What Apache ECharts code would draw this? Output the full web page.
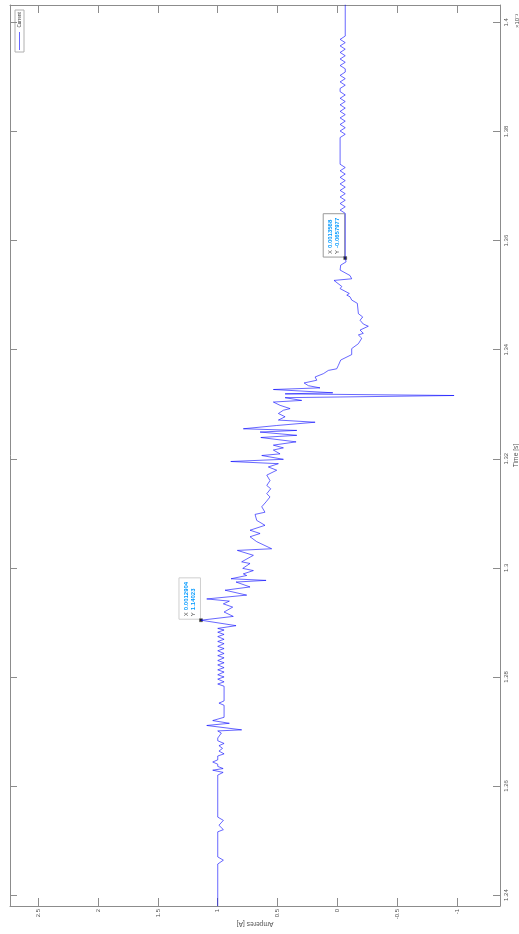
<!DOCTYPE html>
<html><head><meta charset="utf-8">
<script src="https://cdn.jsdelivr.net/npm/echarts@6/dist/echarts.min.js"></script>
<style>html,body{margin:0;padding:0;background:#fff}#c{width:519px;height:934px}</style>
</head><body><div id="c"></div>
<script>
// ---- data: [time (x1e-3 s), current (A)] ----
const segStart = [[1.2379,1.0],[1.2457,1.0],[1.2464,0.953],[1.2470,1.0],[1.2516,1.0],[1.2520,0.953],[1.2528,0.99],[1.2537,0.953],[1.2543,1.0]];
const segCluster = [[1.2620,1.0],[1.2625,0.955],[1.2629,1.042],[1.2632,0.955],[1.2636,1.0],[1.2640,1.0],[1.2644,1.042],[1.2648,1.0],[1.2655,1.0],[1.2659,0.947],[1.2664,0.99],[1.2669,0.96],[1.2674,0.99],[1.2678,0.947],[1.2683,1.0],[1.2688,1.0],[1.2697,0.97],[1.2701,1.0],[1.2703,0.80],[1.2711,1.092],[1.2715,0.903],[1.2720,1.042],[1.2726,0.947],[1.2748,0.947],[1.2752,0.99],[1.2756,0.947],[1.2783,0.947]];
const segRipple = [[1.2787,1.0],[1.2791,0.947],[1.2796,1.0],[1.2800,0.947],[1.2804,1.0],[1.2809,0.947],[1.2813,1.0],[1.2817,0.947],[1.2822,1.0],[1.2826,0.947],[1.2830,1.0],[1.2835,0.947],[1.2839,1.0],[1.2843,0.947],[1.2848,1.0],[1.2852,0.947],[1.2856,1.0],[1.2861,0.947],[1.2865,1.0],[1.2869,0.947],[1.2874,1.0],[1.2878,0.947],[1.2882,1.0],[1.2886,0.947],[1.2889,1.0]];
const segTransient = [[1.2894,0.847],[1.2904,1.14023],[1.2911,0.87],[1.2919,0.947],[1.2928,0.875],[1.2934,0.953],[1.2939,0.903],[1.2943,1.092],[1.2950,0.758],[1.2959,0.939],[1.2965,0.730],[1.2974,0.847],[1.2977,0.596],[1.2980,0.889],[1.2986,0.758],[1.2989,0.786],[1.2995,0.702],[1.2999,0.791],[1.3008,0.730],[1.3011,0.80],[1.3023,0.702],[1.3032,0.836],[1.3035,0.549],[1.3048,0.674],[1.3057,0.73],[1.3063,0.646],[1.3069,0.73],[1.3078,0.605],[1.3087,0.674],[1.3098,0.688],[1.3102,0.605],[1.3112,0.632],[1.3121,0.596],[1.3130,0.563],[1.3136,0.590],[1.3145,0.557],[1.3151,0.590],[1.3160,0.563],[1.3170,0.590],[1.3179,0.507],[1.3185,0.577],[1.3191,0.493],[1.3195,0.891],[1.3199,0.451],[1.3206,0.632],[1.3209,0.479],[1.3216,0.535],[1.3220,0.451],[1.3225,0.535],[1.3231,0.345],[1.3239,0.640],[1.3243,0.339],[1.3249,0.646],[1.3252,0.339],[1.3255,0.786],[1.3261,0.507],[1.3267,0.186],[1.3271,0.493],[1.3277,0.437],[1.3283,0.493],[1.3289,0.451],[1.3292,0.395],[1.3298,0.479],[1.3304,0.535],[1.3307,0.298],[1.3312,0.437],[1.3316,-0.976],[1.3319,0.437],[1.3321,0.038],[1.3327,0.535],[1.3330,0.145],[1.3334,0.242],[1.3339,0.278],[1.3344,0.172],[1.3350,0.186],[1.3356,0.117],[1.3362,0.075],[1.3365,0.005],[1.3371,-0.008],[1.3381,-0.028],[1.3391,-0.120],[1.3402,-0.120],[1.3411,-0.176],[1.3421,-0.204],[1.3427,-0.176],[1.3430,-0.217],[1.3436,-0.190],[1.3443,-0.259],[1.3447,-0.217],[1.3454,-0.190],[1.3460,-0.212],[1.3466,-0.176],[1.3485,-0.167],[1.3491,-0.120],[1.3497,-0.106],[1.3500,-0.079],[1.3503,-0.100],[1.3512,-0.023],[1.3516,-0.037],[1.3527,0.028],[1.3530,-0.120],[1.3536,-0.106],[1.3546,-0.023],[1.3555,-0.028],[1.3561,-0.073],[1.3568,-0.0657977]];
const segTail = [[1.3650,-0.066],[1.3656,-0.023],[1.3662,-0.066],[1.3668,-0.023],[1.3674,-0.066],[1.3680,-0.023],[1.3686,-0.066],[1.3692,-0.023],[1.3698,-0.066],[1.3704,-0.023],[1.3710,-0.066],[1.3716,-0.023],[1.3722,-0.066],[1.3728,-0.023],[1.3734,-0.066],[1.3740,-0.023],[1.3789,-0.023],[1.3795,-0.066],[1.3801,-0.023],[1.3807,-0.066],[1.3813,-0.023],[1.3819,-0.066],[1.3825,-0.023],[1.3831,-0.066],[1.3837,-0.023],[1.3843,-0.066],[1.3849,-0.023],[1.3855,-0.066],[1.3861,-0.023],[1.3867,-0.066],[1.3873,-0.023],[1.3879,-0.023],[1.3885,-0.066],[1.3891,-0.023],[1.3897,-0.066],[1.3903,-0.023],[1.3909,-0.066],[1.3915,-0.066],[1.3921,-0.023],[1.3927,-0.066],[1.3933,-0.023],[1.3939,-0.066],[1.3945,-0.023],[1.3951,-0.066],[1.3957,-0.023],[1.3963,-0.066],[1.3969,-0.023],[1.3975,-0.066],[1.4035,-0.066]];

const timeRange = [1.238, 1.4032];   // x1e-3 s
const ampRange = [-1.36, 2.737];     // A
const seriesName = 'Current';
const dataTips = [
  {t: 1.2904, a: 1.14023, xText: '0.0012904', yText: '1.14023', border: '#cfcfcf'},
  {t: 1.3568, a: -0.0657977, xText: '0.0013568', yText: '-0.0657977', border: '#9a9a9a'}
];

const trace = [].concat(segStart, segCluster, segRipple, segTransient, segTail);
const FONT = '"Liberation Sans", Arial, Helvetica, sans-serif';
const axisCol = '#8c8c8c';
const lblCol = '#505050';

const chart = echarts.init(document.getElementById('c'), null, {renderer: 'canvas'});

function ampAxis(pos, show) {
  return {
    type: 'value', position: pos, min: ampRange[0], max: ampRange[1], inverse: true,
    splitNumber: 8, minInterval: 0.5, maxInterval: 0.5,
    axisLine: {show: true, onZero: false, lineStyle: {color: axisCol, width: 1}},
    axisTick: {show: true, inside: true, length: 8, lineStyle: {color: axisCol, width: 1}},
    splitLine: {show: false},
    axisLabel: {show: show, rotate: 90, fontSize: 6, color: lblCol, margin: 3, fontFamily: FONT,
      showMinLabel: false, showMaxLabel: false},
    name: show ? 'Amperes [A]' : '', nameLocation: 'middle', nameRotate: 180, nameGap: 14,
    nameMoveOverlap: false,
    nameTextStyle: {fontSize: 6.7, color: lblCol, fontFamily: FONT}
  };
}
function timeAxis(pos, show) {
  return {
    type: 'value', position: pos, min: timeRange[0], max: timeRange[1],
    splitNumber: 8, minInterval: 0.02, maxInterval: 0.02,
    axisLine: {show: true, onZero: false, lineStyle: {color: axisCol, width: 1}},
    axisTick: {show: true, inside: true, length: 7, lineStyle: {color: axisCol, width: 1}},
    splitLine: {show: false},
    axisLabel: {show: show, rotate: 90, fontSize: 6, color: lblCol, margin: 3, fontFamily: FONT,
      showMinLabel: false, showMaxLabel: false},
    name: show ? 'Time [s]' : '', nameLocation: 'middle', nameRotate: 90, nameGap: 13,
    nameMoveOverlap: false,
    nameTextStyle: {fontSize: 6.7, color: lblCol, fontFamily: FONT}
  };
}

chart.setOption({
  animation: false,
  backgroundColor: '#ffffff',
  grid: {left: 10, top: 5, right: 19, bottom: 28, containLabel: false, outerBoundsMode: 'none'},
  xAxis: [ampAxis('bottom', true), ampAxis('top', false)],
  yAxis: [timeAxis('right', true), timeAxis('left', false)],
  series: [{
    name: seriesName, type: 'line', xAxisIndex: 0, yAxisIndex: 0,
    data: trace.map(p => [p[1], p[0]]),
    showSymbol: false, symbol: 'none', clip: true,
    lineStyle: {color: '#0000ff', width: 0.6}
  }]
});

// annotations (legend, exponent, data tips)
const ctx = document.createElement('canvas').getContext('2d');
const P = (a, t) => chart.convertToPixel({xAxisIndex: 0, yAxisIndex: 0}, [a, t]);
const graphics = [];

graphics.push({type: 'group', x: 15, y: 10, children: [
  {type: 'rect', shape: {x: 0, y: 0, width: 9, height: 42}, style: {fill: '#fff', stroke: '#b0b0b0', lineWidth: 1}},
  {type: 'text', x: 4.8, y: 17.5, rotation: Math.PI / 2,
    style: {text: seriesName, fill: '#333', font: '4.6px ' + FONT, align: 'left', verticalAlign: 'middle'}},
  {type: 'line', shape: {x1: 4.5, y1: 22, x2: 4.5, y2: 40}, style: {stroke: '#0000ff', lineWidth: 0.6}}
]});

graphics.push({type: 'text', x: 517, y: 28, rotation: Math.PI / 2,
  style: {text: '×10⁻³', fill: lblCol, font: '6px ' + FONT, align: 'left', verticalAlign: 'middle'}});

dataTips.forEach(tip => {
  const [px, py] = P(tip.a, tip.t);
  ctx.font = 'bold 6px ' + FONT;
  const w = Math.max(ctx.measureText(tip.xText).width, ctx.measureText(tip.yText).width);
  const len = 10 + w + 3;
  graphics.push({type: 'group', x: px, y: py, z: 100, children: [
    {type: 'rect', shape: {x: -22, y: -len - 1, width: 21.5, height: len}, style: {fill: '#fff', stroke: tip.border, lineWidth: 1}},
    {type: 'text', x: -15, y: -4, rotation: Math.PI / 2, style: {text: 'X', fill: '#404040', font: '6px ' + FONT, align: 'left', verticalAlign: 'middle'}},
    {type: 'text', x: -15, y: -10, rotation: Math.PI / 2, style: {text: tip.xText, fill: '#0099ff', font: 'bold 6px ' + FONT, align: 'left', verticalAlign: 'middle'}},
    {type: 'text', x: -7.5, y: -4, rotation: Math.PI / 2, style: {text: 'Y', fill: '#404040', font: '6px ' + FONT, align: 'left', verticalAlign: 'middle'}},
    {type: 'text', x: -7.5, y: -10, rotation: Math.PI / 2, style: {text: tip.yText, fill: '#0099ff', font: 'bold 6px ' + FONT, align: 'left', verticalAlign: 'middle'}},
    {type: 'rect', shape: {x: -1.5, y: -1.5, width: 3, height: 3}, style: {fill: '#2a2a1a', stroke: '#555', lineWidth: 0.5}}
  ]});
});

chart.setOption({graphic: graphics});
</script>
</body></html>
